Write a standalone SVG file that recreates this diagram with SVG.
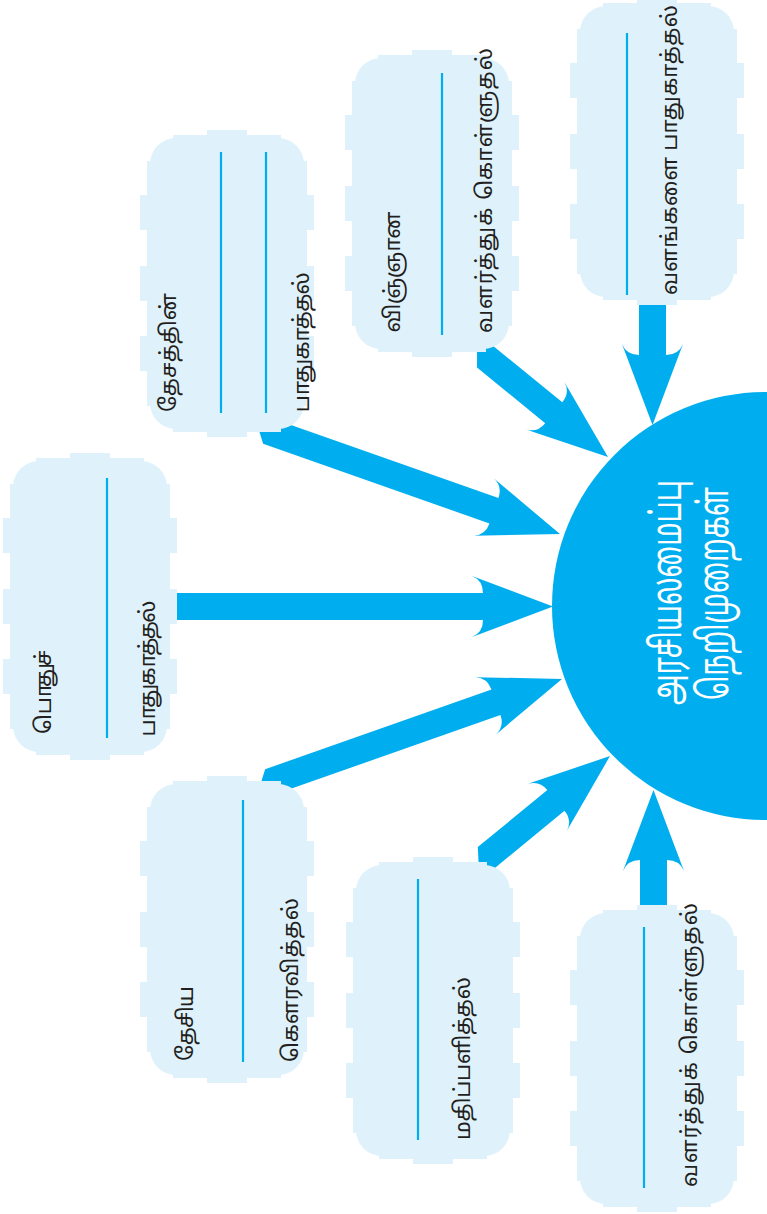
<svg xmlns="http://www.w3.org/2000/svg" xmlns:xlink="http://www.w3.org/1999/xlink" width="767" height="1214" viewBox="0 0 767 1214">
<style>
.bx{fill:#dff2fb}
.ln{stroke:#00aeef;stroke-width:2.2;fill:none}
.ar{fill:#00aeef}
.t{font-family:"Noto Sans Tamil","Lohit Tamil","Noto Sans",sans-serif;font-size:22px;fill:#231f20}
.ct{font-family:"Noto Sans Tamil","Lohit Tamil","Noto Sans",sans-serif;font-size:42px;fill:#ffffff}
</style>
<defs>
<g id="box">
<rect x="3" y="3" width="154" height="291" rx="26"/>
<rect x="26" y="0" width="108" height="297"/>
<rect x="0" y="26" width="160" height="245"/>
<rect x="60" y="-5" width="40" height="6"/>
<rect x="60" y="296" width="40" height="6"/>
<rect x="-7" y="60" width="8" height="35"/>
<rect x="-7" y="131" width="8" height="35"/>
<rect x="-7" y="201" width="8" height="35"/>
<rect x="159" y="60" width="8" height="35"/>
<rect x="159" y="131" width="8" height="35"/>
<rect x="159" y="201" width="8" height="35"/>
</g>
</defs>
<g id="connectors">
<path class="ar" transform="translate(652.5,425) rotate(90)" d="M0,0 L-81,-30.5 Q-70,-26 -70,-13.5 L-130,-13.5 L-130,13.5 L-70,13.5 Q-70,26 -81,30.5 Z"/>
<path class="ar" transform="translate(608,457) rotate(39.2)" d="M0,0 L-81,-30.5 Q-70,-26 -70,-13.5 L-180,-13.5 L-158,13.5 L-70,13.5 Q-70,26 -81,30.5 Z"/>
<path class="ar" transform="translate(560,534) rotate(19.4)" d="M0,0 L-81,-30.5 Q-70,-26 -70,-13.5 L-330,-13.5 L-310,13.5 L-70,13.5 Q-70,26 -81,30.5 Z"/>
<path class="ar" transform="translate(553,606.5) rotate(0)" d="M0,0 L-81,-30.5 Q-70,-26 -70,-13.5 L-385,-13.5 L-385,13.5 L-70,13.5 Q-70,26 -81,30.5 Z"/>
<path class="ar" transform="translate(562,679) rotate(-19.4)" d="M0,0 L-81,-30.5 Q-70,-26 -70,-13.5 L-310,-13.5 L-330,13.5 L-70,13.5 Q-70,26 -81,30.5 Z"/>
<path class="ar" transform="translate(610,756) rotate(-39.4)" d="M0,0 L-81,-30.5 Q-70,-26 -70,-13.5 L-160,-13.5 L-180,13.5 L-70,13.5 Q-70,26 -81,30.5 Z"/>
<path class="ar" transform="translate(653.5,790) rotate(-90)" d="M0,0 L-81,-30.5 Q-70,-26 -70,-13.5 L-130,-13.5 L-130,13.5 L-70,13.5 Q-70,26 -81,30.5 Z"/>
</g>
<g id="node1">
<use xlink:href="#box" href="#box" class="bx" transform="translate(577,3)"/>
<line class="ln" x1="627" y1="33" x2="627" y2="295"/>
<text class="t" transform="translate(677,295) rotate(-90)" textLength="290">வளங்களை பாதுகாத்தல்</text>
</g>
<g id="node2">
<use xlink:href="#box" href="#box" class="bx" transform="translate(352,55)"/>
<line class="ln" x1="442" y1="73" x2="442" y2="335"/>
<text class="t" transform="translate(400,333) rotate(-90)" textLength="121">விஞ்ஞான</text>
<text class="t" transform="translate(492,333) rotate(-90)" textLength="285">வளர்த்துக் கொள்ளுதல்</text>
</g>
<g id="node3">
<use xlink:href="#box" href="#box" class="bx" transform="translate(147,135)"/>
<line class="ln" x1="221" y1="152" x2="221" y2="413"/>
<line class="ln" x1="266" y1="152" x2="266" y2="413"/>
<text class="t" transform="translate(176,412) rotate(-90)" textLength="119">தேசத்தின்</text>
<text class="t" transform="translate(309,413) rotate(-90)" textLength="140">பாதுகாத்தல்</text>
</g>
<g id="node4">
<use xlink:href="#box" href="#box" class="bx" transform="translate(10,458)"/>
<line class="ln" x1="107" y1="478" x2="107" y2="738"/>
<text class="t" transform="translate(51,737) rotate(-90)" textLength="84">பொதுச்</text>
<text class="t" transform="translate(155,738) rotate(-90)" textLength="136">பாதுகாத்தல்</text>
</g>
<g id="node5">
<use xlink:href="#box" href="#box" class="bx" transform="translate(147,781)"/>
<line class="ln" x1="243" y1="800" x2="243" y2="1062"/>
<text class="t" transform="translate(193,1062) rotate(-90)" textLength="75">தேசிய</text>
<text class="t" transform="translate(298,1062) rotate(-90)" textLength="164">கௌரவித்தல்</text>
</g>
<g id="node6">
<use xlink:href="#box" href="#box" class="bx" transform="translate(353,862)"/>
<line class="ln" x1="418" y1="879" x2="418" y2="1140"/>
<text class="t" transform="translate(470,1140) rotate(-90)" textLength="163">மதிப்பளித்தல்</text>
</g>
<g id="node7">
<use xlink:href="#box" href="#box" class="bx" transform="translate(577,910)"/>
<line class="ln" x1="644" y1="927" x2="644" y2="1188"/>
<text class="t" transform="translate(697,1187) rotate(-90)" textLength="284">வளர்த்துக் கொள்ளுதல்</text>
</g>
<g id="center">
<circle cx="766" cy="606" r="214" fill="#00aeef"/>
<text class="ct" transform="translate(681,705) rotate(-90)" textLength="225" lengthAdjust="spacingAndGlyphs">அரசியலமைப்பு</text>
<text class="ct" transform="translate(728,700) rotate(-90)" textLength="213" lengthAdjust="spacingAndGlyphs">நெறிமுறைகள்</text>
</g>
</svg>
